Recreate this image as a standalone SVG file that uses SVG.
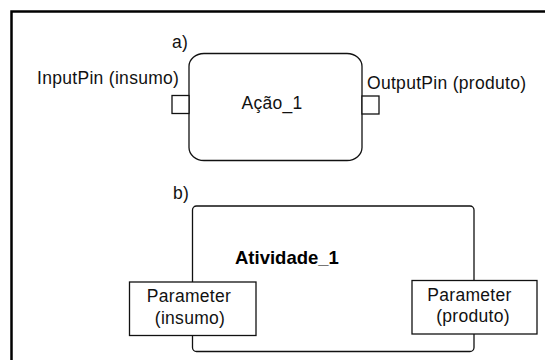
<svg xmlns="http://www.w3.org/2000/svg" width="545" height="360" viewBox="0 0 545 360">
  <style>
    .frame { fill: none; stroke: #000; stroke-width: 2.5; }
    .shape { fill: #fff; stroke: #111; stroke-width: 1.3; }
    .label { font-family: "Liberation Sans", Arial, sans-serif; font-size: 17.5px; letter-spacing: 0.3px; fill: #111; }
    .title { font-family: "Liberation Sans", Arial, sans-serif; font-size: 18.5px; font-weight: bold; fill: #000; }
  </style>
  <rect width="545" height="360" fill="#fff"/>

  <!-- outer frame: only the top and left borders show -->
  <path class="frame" d="M11.5,360 V11.5 H545"/>

  <!-- a) action with input and output pins -->
  <g id="caption-a">
    <text class="label" x="172" y="48">a)</text>
  </g>
  <g id="acao-1">
    <rect class="shape" x="189" y="53.5" width="173" height="107" rx="15" ry="13"/>
    <text class="label" x="272" y="109" text-anchor="middle">Ação_1</text>
  </g>
  <g id="input-pin">
    <rect class="shape" x="172" y="95.5" width="17" height="18"/>
    <text class="label" x="37" y="84">InputPin (insumo)</text>
  </g>
  <g id="output-pin">
    <rect class="shape" x="362" y="96" width="17" height="18"/>
    <text class="label" x="367" y="89">OutputPin (produto)</text>
  </g>

  <!-- b) activity with parameter nodes on its border -->
  <g id="caption-b">
    <text class="label" x="173" y="199">b)</text>
  </g>
  <g id="atividade-1">
    <rect class="shape" x="192.5" y="206" width="281.5" height="145.5" rx="4" ry="4"/>
    <text class="title" x="235" y="264">Atividade_1</text>
  </g>
  <g id="param-insumo">
    <rect class="shape" x="129.5" y="282" width="126.5" height="53.5"/>
    <text class="label" x="189" y="302" text-anchor="middle">Parameter</text>
    <text class="label" x="190" y="323.5" text-anchor="middle">(insumo)</text>
  </g>
  <g id="param-produto">
    <rect class="shape" x="412" y="280.5" width="125" height="53.5"/>
    <text class="label" x="469.5" y="300.5" text-anchor="middle">Parameter</text>
    <text class="label" x="473" y="322" text-anchor="middle">(produto)</text>
  </g>

  <g id="connectors"/>
</svg>
